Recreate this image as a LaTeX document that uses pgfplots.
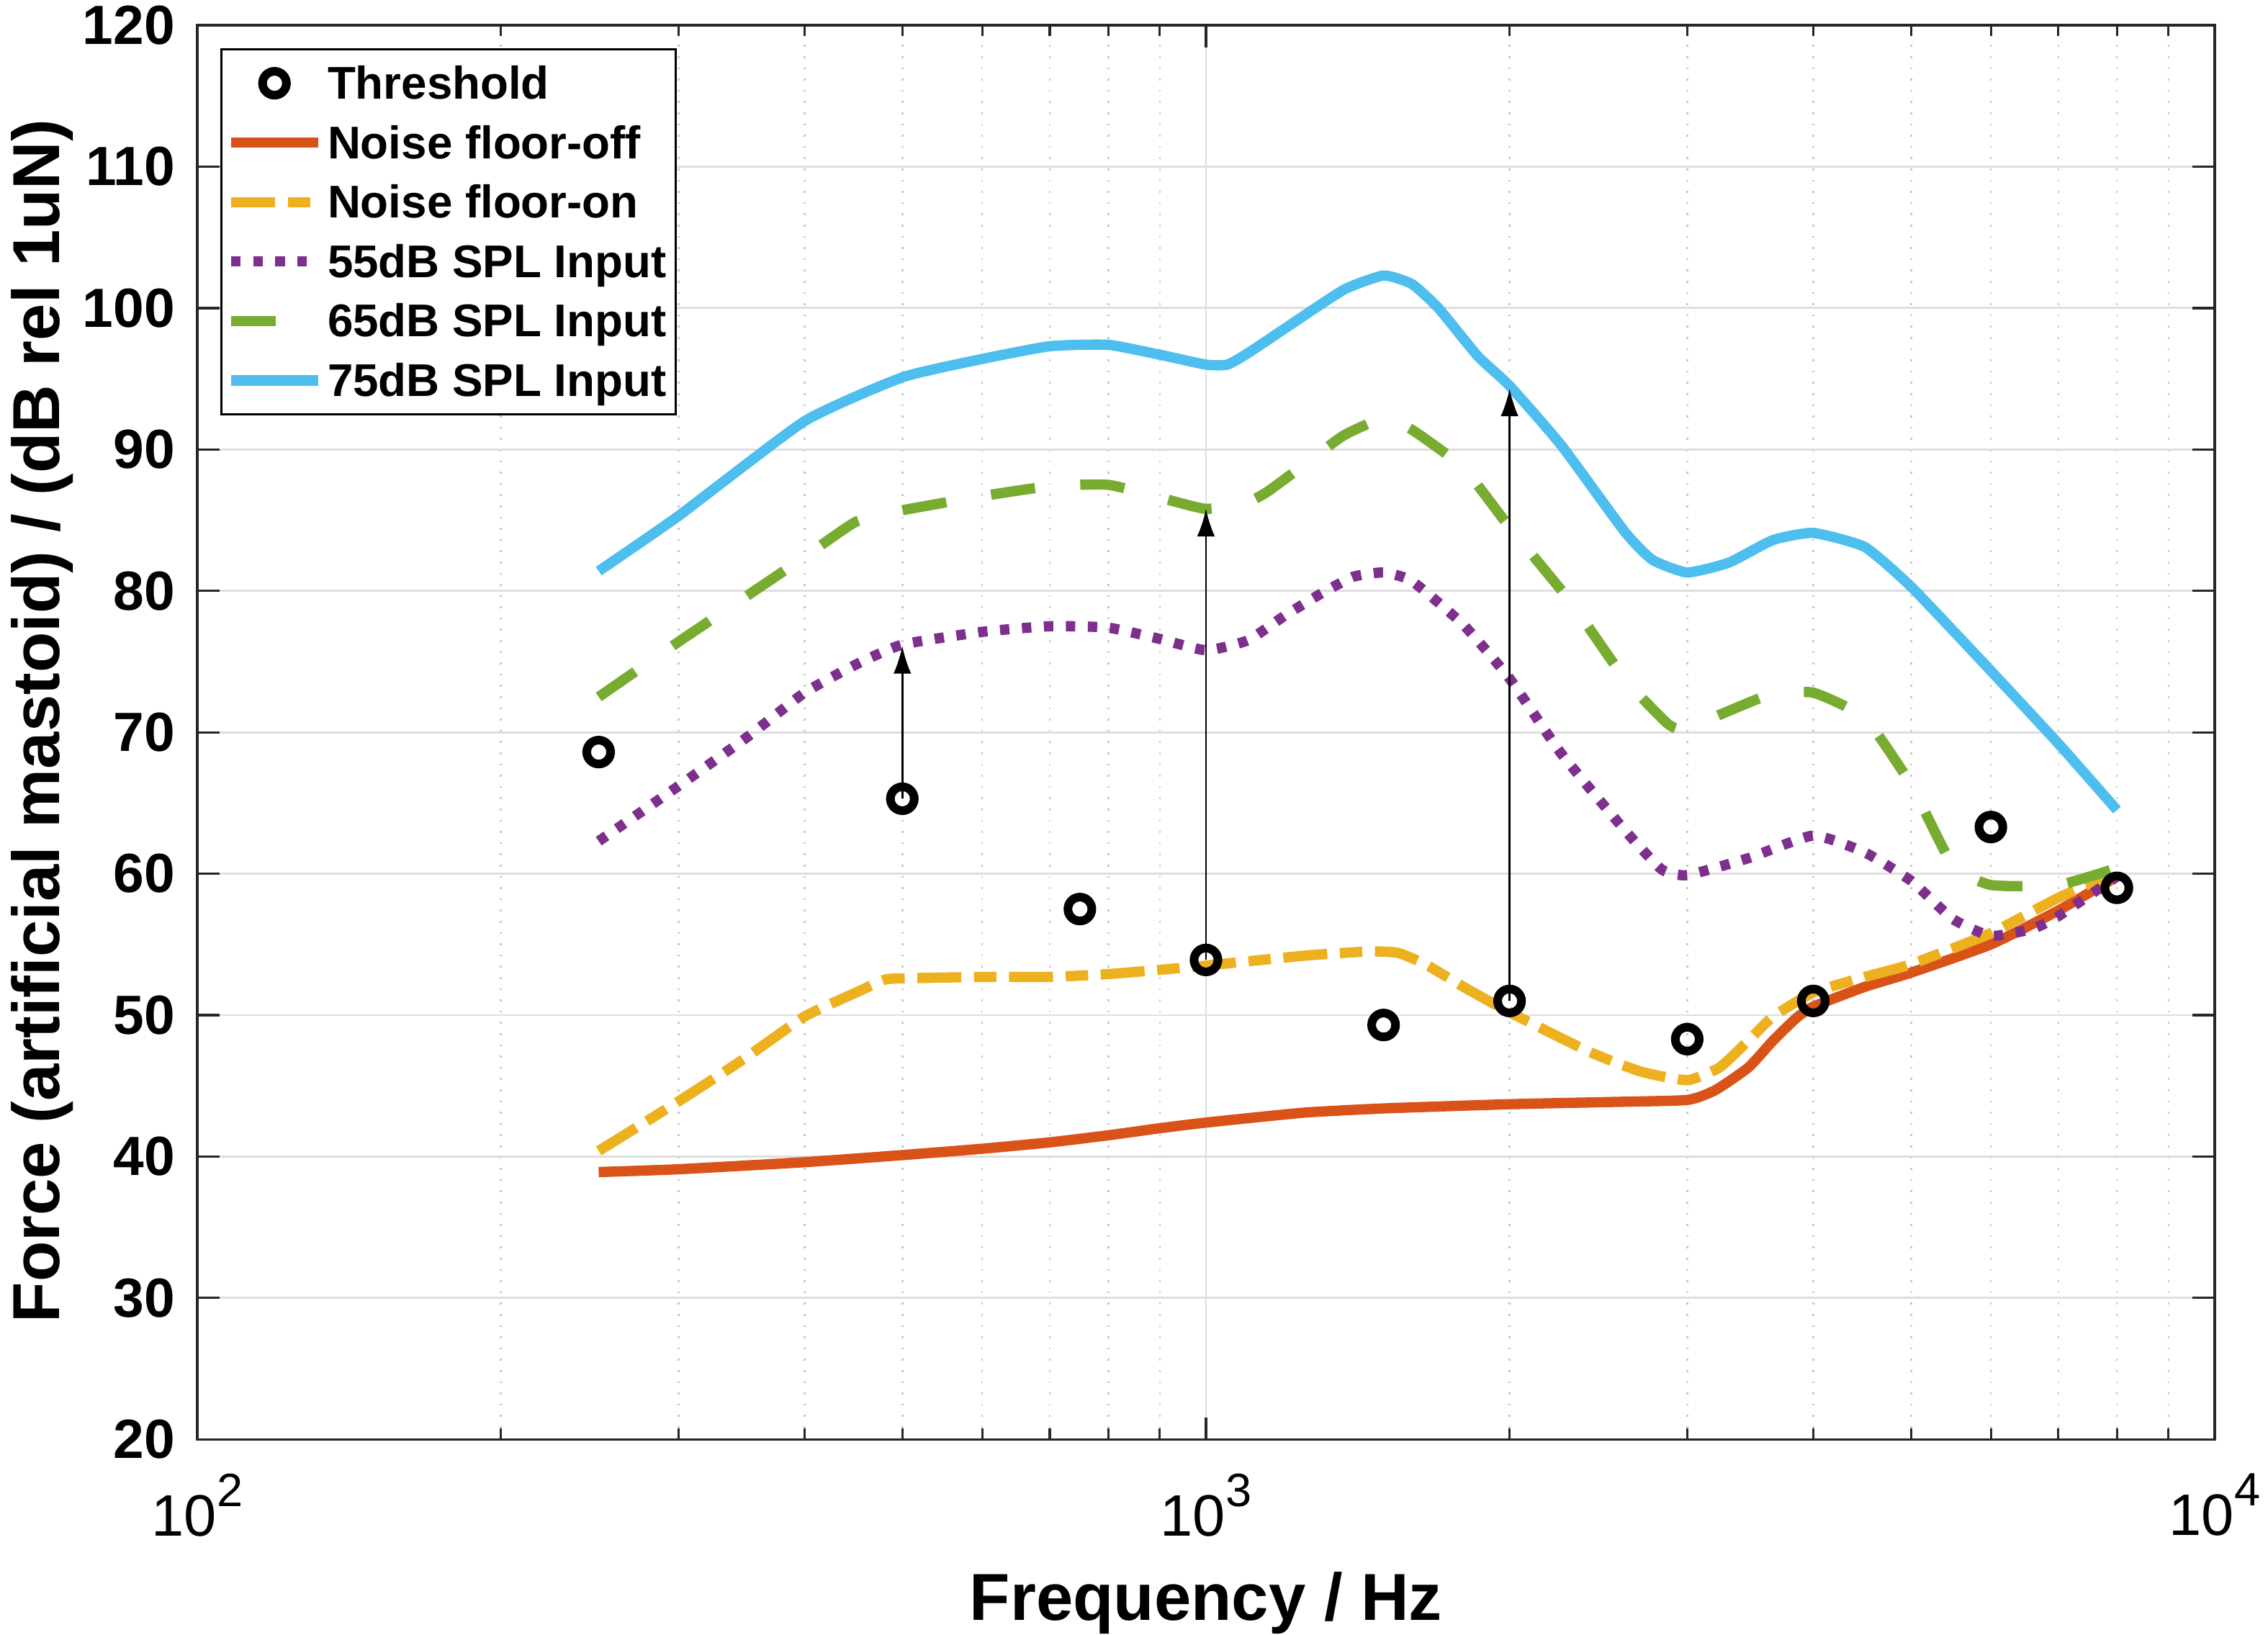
\documentclass[border=0pt]{standalone}
\usepackage{pgfplots}
\pgfplotsset{compat=1.18}
\usepackage{fontspec}
\setmainfont{Liberation Sans}
\usetikzlibrary{arrows.meta}
\definecolor{mred}{RGB}{217,83,25}
\definecolor{myel}{RGB}{237,177,32}
\definecolor{mpur}{RGB}{126,47,142}
\definecolor{mgrn}{RGB}{119,172,48}
\definecolor{mblu}{RGB}{77,190,238}
\definecolor{axc}{RGB}{38,38,38}
\begin{document}
\begin{tikzpicture}
\begin{axis}[
  xmode=log, log basis x=10,
  scale only axis, width=431.1pt, height=302.2pt,
  xmin=100, xmax=10000, ymin=20, ymax=120,
  xtick={100,1000,10000},
  xticklabels={10\raisebox{6.3pt}{\fontsize{10}{12}\selectfont 2},10\raisebox{6.3pt}{\fontsize{10}{12}\selectfont 3},10\raisebox{6.3pt}{\fontsize{10}{12}\selectfont 4}},
  minor xtick={200,300,400,500,600,700,800,900,2000,3000,4000,5000,6000,7000,8000,9000},
  ytick={20,30,40,50,60,70,80,90,100,110,120},
  tick align=inside, tick pos=both,
  major tick length=4.7pt, minor tick length=2.3pt,
  grid=both,
  major grid style={draw=black!13, line width=0.45pt},
  minor grid style={draw=black!22, line width=0.4pt, dotted},
  axis line style={axc, line width=0.5pt},
  every tick/.style={axc, line width=0.5pt},
  /pgf/number format/assume math mode=true,
  yticklabel style={font=\fontsize{11.8}{14}\selectfont\bfseries, anchor=east, inner sep=0pt, xshift=-4.6pt},
  xticklabel style={font=\fontsize{12.5}{15}\selectfont, anchor=north, inner sep=0pt, yshift=-7.1pt},
  xlabel={Frequency / Hz},
  ylabel={Force (artificial mastoid) / (dB rel 1uN)},
  every axis x label/.style={at={(axis description cs:0.5,-0.1277)}, anchor=base, font=\fontsize{14.2}{17}\selectfont\bfseries},
  every axis y label/.style={at={(axis description cs:-0.0682,0.508)}, rotate=90, anchor=base, font=\fontsize{14.2}{17}\selectfont\bfseries},
  legend image code/.code={\draw[mark repeat=2,mark phase=2,#1] plot coordinates {(0pt,0pt) (9.25pt,0pt) (18.5pt,0pt)};},
  legend cell align=left,
  legend style={at={(0.01137,0.9838)}, anchor=north west, draw=black, line width=0.5pt, fill=white,
    font=\fontsize{9.8}{11}\selectfont\bfseries, inner xsep=1pt, inner ysep=1.55pt, row sep=1.3pt,
    nodes={inner sep=1pt, text height=8.1pt, text depth=1.3pt}},
]
\addplot[only marks, mark=o, mark size=2.55pt, black, line width=1.85pt] coordinates {
(250,68.6) (500,65.3) (750,57.5) (1000,53.9) (1500,49.3) (2000,51.0) (3000,48.3) (4000,51.0) (6000,63.3) (8000,59.0)};
\addlegendentry{Threshold}
\addplot[mred, line width=2.2pt, no marks, smooth, tension=0.3] coordinates {
(250,38.9) (300,39.1) (400,39.6) (500,40.1) (600,40.55) (700,41.0) (800,41.5) (900,42.0) (1000,42.4) (1250,43.1) (1500,43.4) (2000,43.7) (2500,43.85) (3000,44.0) (3200,44.7) (3450,46.3) (3650,48.2) (3850,49.8) (4000,50.6) (4500,52.0) (5000,53.0) (6000,55.0) (7000,57.4) (8000,59.8)};
\addlegendentry{Noise floor-off}
\addplot[myel, line width=2.2pt, no marks, smooth, tension=0.3, dash pattern=on 9.4pt off 2.7pt on 4.8pt off 2.7pt] coordinates {
(250,40.4) (300,43.9) (350,47.0) (400,49.9) (450,51.6) (480,52.5) (500,52.6) (600,52.7) (700,52.7) (800,52.9) (900,53.2) (1000,53.5) (1250,54.2) (1450,54.5) (1550,54.4) (1650,53.6) (1800,52.0) (2000,50.2) (2400,47.4) (2700,46.0) (3000,45.4) (3230,46.3) (3450,48.2) (3650,49.9) (4000,51.6) (4500,52.7) (5000,53.6) (6000,55.8) (7000,58.3) (8000,60.1)};
\addlegendentry{Noise floor-on}
\addplot[mpur, line width=2.2pt, no marks, smooth, tension=0.3, dash pattern=on 2pt off 2.7pt] coordinates {
(250,62.3) (300,66.2) (350,69.6) (400,72.8) (450,74.8) (500,76.2) (600,77.1) (700,77.5) (800,77.4) (900,76.6) (1000,75.8) (1100,76.5) (1200,78.3) (1300,79.8) (1400,81.0) (1500,81.3) (1600,80.7) (1800,77.6) (2000,73.8) (2250,68.5) (2600,63.1) (2830,60.3) (3000,59.9) (3450,61.1) (4000,62.7) (4500,61.5) (5000,59.5) (5500,56.8) (6000,55.6) (6600,56.1) (7000,57.0) (8000,59.8)};
\addlegendentry{55dB SPL Input}
\addplot[mgrn, line width=2.2pt, no marks, smooth, tension=0.3, dash pattern=on 9.5pt off 9.7pt] coordinates {
(250,72.5) (300,76.4) (350,79.6) (400,82.4) (450,84.9) (500,85.7) (600,86.7) (700,87.4) (800,87.5) (900,86.6) (1000,85.8) (1100,86.3) (1150,87.0) (1250,88.9) (1370,91.0) (1500,92.2) (1600,91.4) (1800,88.7) (2000,84.5) (2300,79.2) (2600,73.8) (2870,70.6) (3000,70.3) (3600,72.6) (4000,72.8) (4500,71.0) (5000,66.3) (5500,60.6) (6000,59.2) (7000,59.2) (8000,60.4)};
\addlegendentry{65dB SPL Input}
\addplot[mblu, line width=2.2pt, no marks, smooth, tension=0.3] coordinates {
(250,81.4) (300,85.3) (400,92.0) (500,95.1) (600,96.4) (700,97.3) (800,97.4) (900,96.7) (1000,96.0) (1050,96.0) (1100,96.8) (1200,98.6) (1370,101.3) (1500,102.3) (1600,101.7) (1700,100.0) (1860,96.6) (2000,94.5) (2250,90.3) (2600,84.2) (2770,82.2) (3000,81.3) (3300,82.0) (3650,83.6) (4000,84.1) (4500,83.1) (5000,80.3) (5900,74.9) (7000,69.2) (8000,64.5)};
\addlegendentry{75dB SPL Input}
\addplot[black, line width=0.4pt, -{Latex[length=5.9pt,width=3.8pt]}, forget plot] coordinates {(500,65.3) (500,76.1)};
\addplot[black, line width=0.4pt, -{Latex[length=5.9pt,width=3.8pt]}, forget plot] coordinates {(1000,53.9) (1000,85.8)};
\addplot[black, line width=0.4pt, -{Latex[length=5.9pt,width=3.8pt]}, forget plot] coordinates {(2000,51.0) (2000,94.3)};
\end{axis}
\pgfresetboundingbox
\path[use as bounding box] ([shift={(-42.15pt,-41.7pt)}]current axis.south west) rectangle ([shift={(11.4pt,5.4pt)}]current axis.north east);
\end{tikzpicture}
\end{document}
